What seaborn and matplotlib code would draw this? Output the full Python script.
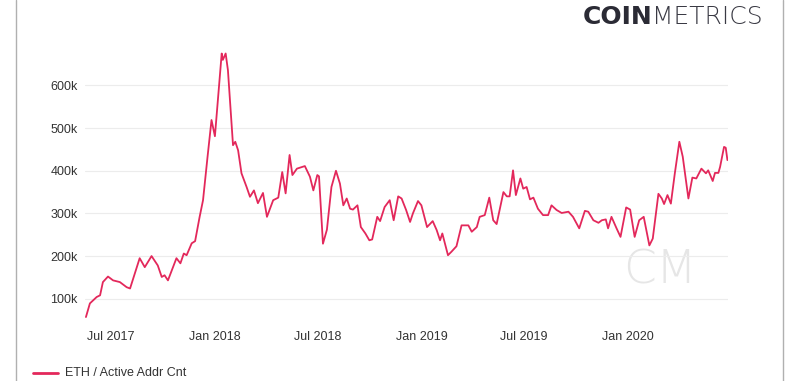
import pandas as pd
import matplotlib.pyplot as plt
import seaborn as sns
from matplotlib.lines import Line2D

# Values (ETH active addresses, thousands)
dates = [
    '2017-05-18', '2017-05-25', '2017-06-06', '2017-06-12', '2017-06-17', '2017-06-26',
    '2017-07-05', '2017-07-17', '2017-07-29', '2017-08-04', '2017-08-21', '2017-08-30',
    '2017-09-11', '2017-09-22', '2017-09-29', '2017-10-04', '2017-10-10', '2017-10-25',
    '2017-11-01', '2017-11-07', '2017-11-12', '2017-11-21', '2017-11-27', '2017-12-05',
    '2017-12-11', '2017-12-19', '2017-12-26', '2018-01-01', '2018-01-13', '2018-01-15',
    '2018-01-20', '2018-01-24', '2018-02-02', '2018-02-06', '2018-02-11', '2018-02-17',
    '2018-02-26', '2018-03-04', '2018-03-11', '2018-03-18', '2018-03-27', '2018-04-03',
    '2018-04-14', '2018-04-23', '2018-04-30', '2018-05-06', '2018-05-13', '2018-05-18',
    '2018-05-26', '2018-06-09', '2018-06-18', '2018-06-24', '2018-07-01', '2018-07-04',
    '2018-07-11', '2018-07-18', '2018-07-26', '2018-08-03', '2018-08-10', '2018-08-16',
    '2018-08-22', '2018-08-28', '2018-09-02', '2018-09-10', '2018-09-16', '2018-09-24',
    '2018-10-01', '2018-10-06', '2018-10-15', '2018-10-20', '2018-10-28', '2018-11-06',
    '2018-11-13', '2018-11-21', '2018-11-27', '2018-12-05', '2018-12-12', '2018-12-17',
    '2018-12-26', '2019-01-01', '2019-01-11', '2019-01-21', '2019-01-28', '2019-02-03',
    '2019-02-07', '2019-02-17', '2019-02-23', '2019-03-04', '2019-03-13', '2019-03-25',
    '2019-03-31', '2019-04-09', '2019-04-14', '2019-04-23', '2019-05-01', '2019-05-08',
    '2019-05-14', '2019-05-26', '2019-06-01', '2019-06-06', '2019-06-12', '2019-06-17',
    '2019-06-25', '2019-06-30', '2019-07-06', '2019-07-12', '2019-07-18', '2019-07-26',
    '2019-08-04', '2019-08-13', '2019-08-19', '2019-08-28', '2019-09-06', '2019-09-18',
    '2019-09-26', '2019-10-07', '2019-10-17', '2019-10-23', '2019-11-01', '2019-11-10',
    '2019-11-16', '2019-11-23', '2019-11-27', '2019-12-03', '2019-12-12', '2019-12-19',
    '2019-12-29', '2020-01-05', '2020-01-13', '2020-01-21', '2020-01-29', '2020-02-08',
    '2020-02-14', '2020-02-24', '2020-03-01', '2020-03-05', '2020-03-11', '2020-03-17',
    '2020-03-24', '2020-04-01', '2020-04-07', '2020-04-17', '2020-04-24', '2020-05-01',
    '2020-05-10', '2020-05-18', '2020-05-22', '2020-05-30', '2020-06-03', '2020-06-09',
    '2020-06-12', '2020-06-19', '2020-06-22', '2020-06-25',
]
active_addr = [
    57, 89, 104, 108, 139, 152,
    143, 139, 127, 124, 195, 174,
    200, 178, 151, 155, 143, 195,
    183, 206, 202, 230, 235, 292,
    331, 433, 519, 481, 675, 660,
    675, 636, 460, 468, 448, 394,
    362, 339, 354, 324, 348, 292,
    331, 337, 397, 347, 437, 390,
    405, 411, 386, 354, 390, 387,
    229, 262, 362, 400, 370, 319,
    335, 311, 309, 319, 268, 253,
    237, 239, 292, 282, 315, 331,
    284, 340, 335, 308, 280, 300,
    329, 319, 268, 282, 261, 237,
    253, 202, 210, 223, 272, 272,
    257, 268, 292, 296, 337, 284,
    275, 350, 340, 340, 401, 343,
    382, 358, 362, 333, 337, 311,
    296, 296, 319, 308, 301, 304,
    292, 265, 306, 304, 284, 278,
    284, 286, 265, 292, 265, 245,
    314, 309, 245, 284, 292, 225,
    241, 346, 335, 322, 343, 323,
    394, 468, 433, 335, 384, 382,
    405, 394, 401, 376, 395, 395,
    409, 456, 454, 425,
]

tick_dates = ['2017-07-01', '2018-01-01', '2018-07-01', '2019-01-01',
              '2019-07-01', '2020-01-01']
tick_labels = ['Jul 2017', 'Jan 2018', 'Jul 2018', 'Jan 2019', 'Jul 2019', 'Jan 2020']
y_ticks = [100, 200, 300, 400, 500, 600]

df = pd.DataFrame({'date': pd.to_datetime(dates), 'value': [v * 1000 for v in active_addr]})

sns.set_style('white')
plt.rcParams['font.family'] = ['Liberation Sans', 'DejaVu Sans']

fig = plt.figure(figsize=(8, 3.81), dpi=100)
ax = fig.add_axes([0.106, 0.16, 0.804, 0.722])

sns.lineplot(data=df, x='date', y='value', ax=ax, color='#e3285b', linewidth=1.3)

ax.set_ylim(50000, 695000)
ax.set_xlim(pd.Timestamp('2017-05-16'), pd.Timestamp('2020-06-26'))
ax.set_yticks([t * 1000 for t in y_ticks])
ax.set_yticklabels([f'{t}k' for t in y_ticks])
ax.set_xticks(pd.to_datetime(tick_dates))
ax.set_xticklabels(tick_labels)
ax.tick_params(axis='both', length=0, labelsize=9, colors='#333333')
ax.tick_params(axis='y', pad=5)
ax.tick_params(axis='x', pad=8)
ax.grid(axis='y', color='#ececec', linewidth=0.8)
ax.grid(axis='x', visible=False)
sns.despine(ax=ax, left=True, bottom=True)
ax.set_xlabel('')
ax.set_ylabel('')

# CM watermark
ax.text(0.895, 0.18, 'CM', transform=ax.transAxes, fontsize=34, color='#e6e6e6',
        family='DejaVu Sans', fontweight='light', ha='center', va='center', zorder=0)

# logo
fig.text(0.729, 0.955, 'COIN', fontsize=18, fontweight='bold', color='#2b2b35',
         family='DejaVu Sans', ha='left', va='center')
fig.text(0.815, 0.955, 'METRICS', fontsize=18, color='#3a3a44',
         family='DejaVu Sans', fontweight='light', ha='left', va='center')

# legend
fig.add_artist(Line2D([0.041, 0.073], [0.022, 0.022], color='#e3285b', linewidth=2))
fig.text(0.081, 0.022, 'ETH / Active Addr Cnt', fontsize=9, color='#333333', va='center')

# screenshot frame edges
fig.add_artist(Line2D([0.02, 0.02], [0, 1], color='#b0b0b0', linewidth=1))
fig.add_artist(Line2D([0.979, 0.979], [0, 1], color='#b0b0b0', linewidth=1))

fig.savefig('out.png', dpi=100)
